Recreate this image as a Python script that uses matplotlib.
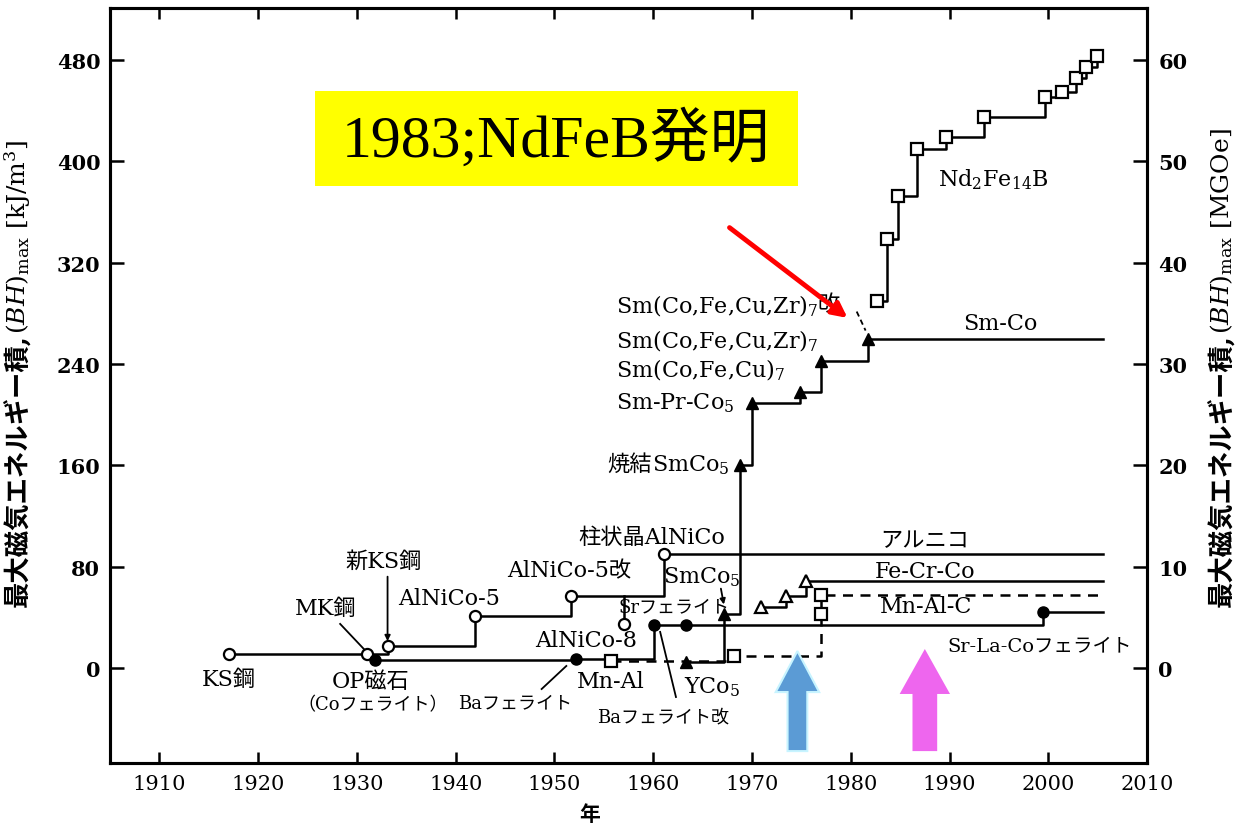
import matplotlib.pyplot as plt
from matplotlib.patches import Rectangle, FancyArrow, FancyArrowPatch

plt.rcParams['font.family'] = ['DejaVu Serif', 'Noto Sans CJK JP']
plt.rcParams['mathtext.fontset'] = 'dejavuserif'

# -----------------------------
# Data (year, (BH)max in kJ/m3)
# -----------------------------
alnico_year = [1917, 1931, 1933.1, 1942, 1951.7, 1961.1]
alnico_val = [11, 11, 17.4, 41, 57, 90]
alnico8_year = [1957]
alnico8_val = [35]

ferrite_year = [1931.8, 1952.2, 1960.1, 1963.3, 1999.5]
ferrite_val = [6.3, 7, 34, 34, 44]

mnal_year = [1955.7, 1968.2, 1977, 1977]
mnal_val = [5.5, 9.5, 42.7, 58]

smco_year = [1963.3, 1967.2, 1968.8, 1970, 1974.9, 1977, 1981.7]
smco_val = [4.7, 42.7, 160, 209, 218, 242, 260]

fecrco_year = [1970.9, 1973.4, 1975.5]
fecrco_val = [48, 57, 69]

ndfeb_year = [1982.7, 1983.7, 1984.8, 1986.7, 1989.6, 1993.5,
              1999.7, 2001.4, 2002.8, 2003.8, 2004.9]
ndfeb_val = [290, 339, 372.6, 409.5, 419.5, 435,
             451, 455, 465.6, 474.8, 482.8]

end_year = 2005.5
kj_per_mgoe = 8

left_ticks = [0, 80, 160, 240, 320, 400, 480]
right_ticks = [0, 10, 20, 30, 40, 50, 60]
year_ticks = list(range(1910, 2011, 10))

fig = plt.figure(figsize=(12.39, 8.29), dpi=100)
ax = fig.add_axes([0.0888, 0.0784, 0.837, 0.9107])

LW = 1.8


def steps(x, y, end=None, ls='-'):
    xs = list(x)
    ys = list(y)
    if end is not None:
        xs.append(end)
        ys.append(ys[-1])
    ax.plot(xs, ys, drawstyle='steps-post', color='black', lw=LW, ls=ls, zorder=2)


steps(alnico_year, alnico_val, end_year)
ax.plot([alnico8_year[0], alnico8_year[0]], [alnico_val[4], alnico8_val[0]],
        color='black', lw=LW, zorder=2)
steps(ferrite_year, ferrite_val, end_year)
steps(mnal_year, mnal_val, end_year, ls=(0, (4, 3)))
steps(smco_year, smco_val, end_year)
steps(fecrco_year, fecrco_val, end_year)
steps(ndfeb_year, ndfeb_val)

# markers
open_kw = dict(ls='none', mfc='white', mec='black', mew=1.6, zorder=3)
ax.plot(alnico_year, alnico_val, 'o', ms=8, **open_kw)
ax.plot(alnico8_year, alnico8_val, 'o', ms=8, **open_kw)
ax.plot(ferrite_year, ferrite_val, 'o', ms=8, color='black', ls='none', zorder=3)
ax.plot(mnal_year, mnal_val, 's', ms=8, **open_kw)
ax.plot(smco_year, smco_val, '^', ms=9, color='black', ls='none', zorder=3)
ax.plot(fecrco_year, fecrco_val, '^', ms=9, **open_kw)
ax.plot(ndfeb_year, ndfeb_val, 's', ms=9, **open_kw)

# -----------------------------
# Labels
# -----------------------------
FS = 16


def label(x, y, s, fs=FS, ha='center', **kw):
    return ax.text(x, y, s, fontsize=fs, ha=ha, va='center', zorder=4, **kw)


label(1917, -9, 'KS鋼')
label(1926.8, 47, 'MK鋼')
label(1932.7, 85, '新KS鋼')
label(1931.4, -10, 'OP磁石')
label(1931.6, -28.5, '（Coフェライト）', fs=13)
label(1939.3, 55, 'AlNiCo-5')
label(1951.5, 77.5, 'AlNiCo-5改')
label(1959.9, 103.5, '柱状晶AlNiCo')
label(1964.9, 72.7, 'SmCo$_5$')
label(1962.1, 49, 'Srフェライト', fs=13)
label(1953.2, 22, 'AlNiCo-8')
label(1946, -27, 'Baフェライト', fs=13)
label(1955.7, -10, 'Mn-Al')
label(1966, -14, 'YCo$_5$')
label(1961, -38, 'Baフェライト改', fs=13)
label(1987.5, 101, 'アルニコ')
label(1987.5, 76.7, 'Fe-Cr-Co')
label(1987.6, 49, 'Mn-Al-C')
label(1999.1, 18.2, 'Sr-La-Coフェライト', fs=14)
label(1995.1, 272, 'Sm-Co')
label(1994.4, 386.6, 'Nd$_2$Fe$_{14}$B')

t = label(1967.7, 160.5, 'SmCo$_5$', ha='right')
ax.annotate('焼結', xy=(0, 0.55), xycoords=t, ha='right', va='center', fontsize=FS)
label(1956.2, 210, 'Sm-Pr-Co$_5$', ha='left')
label(1956.2, 235.5, 'Sm(Co,Fe,Cu)$_7$', ha='left')
label(1956.2, 258.5, 'Sm(Co,Fe,Cu,Zr)$_7$', ha='left')
t = label(1956.2, 286, 'Sm(Co,Fe,Cu,Zr)$_7$', ha='left')
ax.annotate('改', xy=(1, 0.55), xycoords=t, ha='left', va='center', fontsize=FS)

# leader lines
ax.plot([1928.3, 1930.7], [34.8, 15.0], color='black', lw=1.3)
ax.annotate('', xy=(1933.1, 19), xytext=(1933.1, 74.3),
            arrowprops=dict(arrowstyle='-|>', color='black', lw=1.3, mutation_scale=8))
ax.plot([1948.7, 1951.2], [-16.6, 1.6], color='black', lw=1.3)
ax.annotate('', xy=(1967.2, 48), xytext=(1966.8, 64.8),
            arrowprops=dict(arrowstyle='-|>', color='black', lw=1.3, mutation_scale=8))
ax.plot([1962.3, 1960.7], [-22.9, 28.5], color='black', lw=1.3)
ax.plot([1980.6, 1981.5], [281.4, 266.4], color='black', lw=1.3, ls=(0, (3, 2)))

# -----------------------------
# Coloured arrows
# -----------------------------
ax.add_patch(FancyArrow(1974.6, -65.6, 0, 79, width=2.0, head_width=4.4,
                        head_length=32.4, length_includes_head=True,
                        fc='#5b9bd5', ec='#c8f4ff', lw=1.5, zorder=5))
ax.add_patch(FancyArrow(1987.5, -65.6, 0, 80.6, width=2.5, head_width=5.1,
                        head_length=35.5, length_includes_head=True,
                        fc='#ee66ee', ec='none', zorder=5))
ax.add_patch(FancyArrowPatch((1967.5, 349), (1979.9, 275), arrowstyle='-|>',
                             mutation_scale=22, color='#ff0000', lw=3.5, zorder=5))

# yellow note box
fig.add_artist(Rectangle((315 / 1239, 1 - 187 / 829), 483 / 1239, 95 / 829,
                         transform=fig.transFigure, fc='#ffff00', ec='none', zorder=6))
fig.text(556 / 1239, 1 - 140 / 829, '1983;NdFeB発明', fontsize=43,
         family=['Liberation Serif', 'Noto Sans CJK JP'],
         ha='center', va='center', zorder=7)

# -----------------------------
# Axes
# -----------------------------
ax.set_xlim(1905, 2010)
ax.set_ylim(-75, 521)
ax.set_xticks(year_ticks)
ax.set_yticks(left_ticks)
ax.tick_params(axis='x', direction='in', top=True, length=8, width=1.8,
               labelsize=15, pad=8)
ax.tick_params(axis='y', direction='in', length=10, width=1.8,
               labelsize=15, pad=7)
for lbl in ax.get_yticklabels():
    lbl.set_fontweight('bold')
for sp in ax.spines.values():
    sp.set_linewidth(2.2)

ax2 = ax.twinx()
ax2.set_ylim(-75 / kj_per_mgoe, 521 / kj_per_mgoe)
ax2.set_yticks(right_ticks)
ax2.tick_params(axis='y', direction='in', length=10, width=1.8,
                labelsize=15, pad=8)
for lbl in ax2.get_yticklabels():
    lbl.set_fontweight('bold')
for sp in ax2.spines.values():
    sp.set_linewidth(2.2)

fig.text(590 / 1239, 1 - 815 / 829, '年', fontsize=15, fontweight='bold',
         ha='center', va='center')

# y-axis titles (CJK part + math part stacked)
for xpos, unit in [(18, '[kJ/m$^3$]'), (1222, '[MGOe]')]:
    t1 = fig.text(xpos / 1239, 1 - 607 / 829, '最大磁気エネルギー積,', fontsize=19,
                  fontweight='bold', rotation=90, ha='center', va='bottom')
    ax.annotate('$(BH)_{\\rm max}$ ' + unit, xy=(0.5, 1), xycoords=t1,
                rotation=90, ha='center', va='bottom', fontsize=18,
                annotation_clip=False)

fig.savefig('out.png', dpi=100)
